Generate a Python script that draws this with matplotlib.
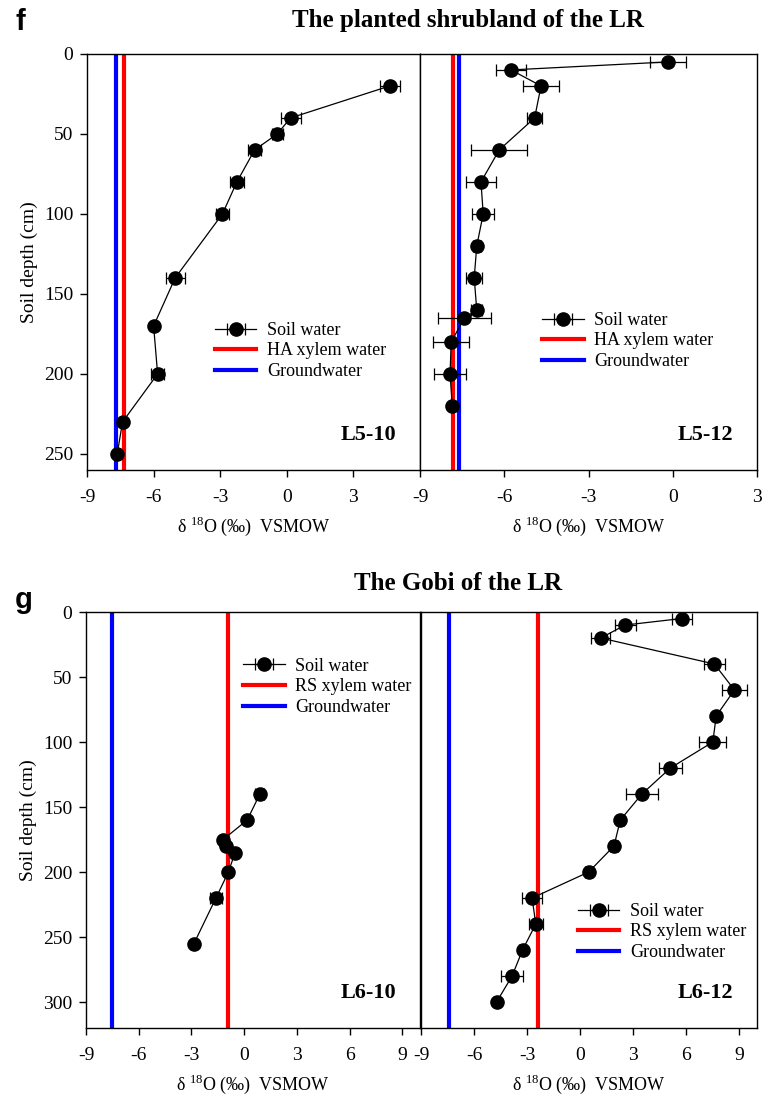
import matplotlib
matplotlib.use('Agg')
import matplotlib.pyplot as plt

plt.rcParams['font.family'] = ['Liberation Serif', 'DejaVu Serif']
plt.rcParams['mathtext.fontset'] = 'custom'
plt.rcParams['mathtext.rm'] = 'Liberation Serif'
plt.rcParams['axes.unicode_minus'] = False

# L5-10 (planted shrubland, October)
d_l510 = [20, 40, 50, 60, 80, 100, 140, 170, 200, 230, 250]
v_l510 = [4.64, 0.17, -0.43, -1.45, -2.25, -2.9, -5.03, -6.0, -5.82, -7.4, -7.64]
e_l510 = [0.45, 0.45, 0.25, 0.3, 0.3, 0.3, 0.43, 0.0, 0.3, 0.1, 0.1]

# L5-12 (planted shrubland, December)
d_l512 = [5, 10, 20, 40, 60, 80, 100, 120, 140, 160, 165, 180, 200, 220]
v_l512 = [-0.17, -5.76, -4.69, -4.92, -6.18, -6.83, -6.75, -6.98, -7.07, -6.98, -7.42, -7.89, -7.93, -7.85]
e_l512 = [0.63, 0.55, 0.65, 0.28, 1.0, 0.54, 0.4, 0.15, 0.29, 0.2, 0.93, 0.63, 0.58, 0.05]

# L6-10 (Gobi, October)
d_l610 = [140, 160, 175, 180, 185, 200, 220, 255]
v_l610 = [0.89, 0.17, -1.2, -1.05, -0.52, -0.9, -1.61, -2.86]
e_l610 = [0.25, 0.0, 0.0, 0.0, 0.15, 0.0, 0.35, 0.0]

# L6-12 (Gobi, December)
d_l612 = [5, 10, 20, 40, 60, 80, 100, 120, 140, 160, 180, 200, 220, 240, 260, 280, 300]
v_l612 = [5.75, 2.55, 1.16, 7.59, 8.72, 7.69, 7.5, 5.1, 3.49, 2.27, 1.91, 0.48, -2.72, -2.51, -3.26, -3.85, -4.73]
e_l612 = [0.56, 0.58, 0.55, 0.58, 0.69, 0.0, 0.77, 0.65, 0.89, 0.2, 0.25, 0.2, 0.57, 0.4, 0.2, 0.61, 0.15]

# reference lines: (xylem, groundwater)
ref_l510 = (-7.33, -7.69)
ref_l512 = (-7.81, -7.62)
ref_l610 = (-0.9, -7.54)
ref_l612 = (-2.36, -7.4)

fig = plt.figure(figsize=(7.62, 10.96), dpi=100)

ax_tl = fig.add_axes([0.1142, 0.5712, 0.4370, 0.3796])
ax_tr = fig.add_axes([0.5512, 0.5712, 0.4423, 0.3796])
ax_bl = fig.add_axes([0.1129, 0.0620, 0.4383, 0.3796])
ax_br = fig.add_axes([0.5525, 0.0620, 0.4410, 0.3796])


def draw_panel(ax, depth, vals, errs, ref, xylem_name, tag, leg_pos):
    ax.axvline(ref[0], color='#ff0000', lw=3, label=xylem_name, zorder=2)
    ax.axvline(ref[1], color='#0000ff', lw=3, label='Groundwater', zorder=2)
    ax.errorbar(vals, depth, xerr=errs, color='black', lw=0.9, marker='o',
                markersize=9.5, capsize=4, elinewidth=0.9, capthick=0.9,
                label='Soil water', zorder=3)
    h, l = ax.get_legend_handles_labels()
    order = [2, 0, 1]
    ax.legend([h[i] for i in order], [l[i] for i in order], frameon=False,
              fontsize=13, loc='center left', bbox_to_anchor=leg_pos,
              borderpad=0, borderaxespad=0, handlelength=2.3,
              handletextpad=0.6, labelspacing=0.2)
    ax.text(0.93, 0.085, tag, transform=ax.transAxes, ha='right', va='center',
            fontsize=16, fontweight='bold')
    for s in ax.spines.values():
        s.set_linewidth(1.0)
    ax.tick_params(axis='both', direction='out', length=5, width=1.0,
                   labelsize=14, top=False, right=False)
    ax.tick_params(axis='x', pad=9)
    ax.tick_params(axis='y', pad=5)
    ax.set_xlabel('δ $^{\\mathregular{18}}$O (‰)  VSMOW', fontsize=13, labelpad=6)


draw_panel(ax_tl, d_l510, v_l510, e_l510, ref_l510, 'HA xylem water', 'L5-10', (0.384, 0.286))
draw_panel(ax_tr, d_l512, v_l512, e_l512, ref_l512, 'HA xylem water', 'L5-12', (0.362, 0.31))
draw_panel(ax_bl, d_l610, v_l610, e_l610, ref_l610, 'RS xylem water', 'L6-10', (0.47, 0.82))
draw_panel(ax_br, d_l612, v_l612, e_l612, ref_l612, 'RS xylem water', 'L6-12', (0.467, 0.231))

ax_tl.set_xlim(-9, 6)
ax_tl.set_xticks([-9, -6, -3, 0, 3])
ax_tr.set_xlim(-9, 3)
ax_tr.set_xticks([-9, -6, -3, 0, 3])
for ax in (ax_tl, ax_tr):
    ax.set_ylim(260, 0)
    ax.set_yticks([0, 50, 100, 150, 200, 250])
for ax in (ax_bl, ax_br):
    ax.set_xlim(-9, 10)
    ax.set_xticks([-9, -6, -3, 0, 3, 6, 9])
    ax.set_ylim(320, 0)
    ax.set_yticks([0, 50, 100, 150, 200, 250, 300])

for ax in (ax_tr, ax_br):
    ax.tick_params(axis='y', left=False, labelleft=False)

ax_tl.set_ylabel('Soil depth (cm)', fontsize=14)
ax_bl.set_ylabel('Soil depth (cm)', fontsize=14)

fig.text(468 / 762, 1 - 20 / 1096, 'The planted shrubland of the LR', ha='center',
         va='center', fontsize=18, fontweight='bold')
fig.text(458 / 762, 1 - 583 / 1096, 'The Gobi of the LR', ha='center',
         va='center', fontsize=18, fontweight='bold')
fig.text(15 / 762, 1 - 22 / 1096, 'f', ha='left', va='center', fontsize=21,
         fontweight='bold', family='Liberation Sans')
fig.text(15 / 762, 1 - 600 / 1096, 'g', ha='left', va='center', fontsize=21,
         fontweight='bold', family='Liberation Sans')

fig.savefig('out.png', dpi=100)
